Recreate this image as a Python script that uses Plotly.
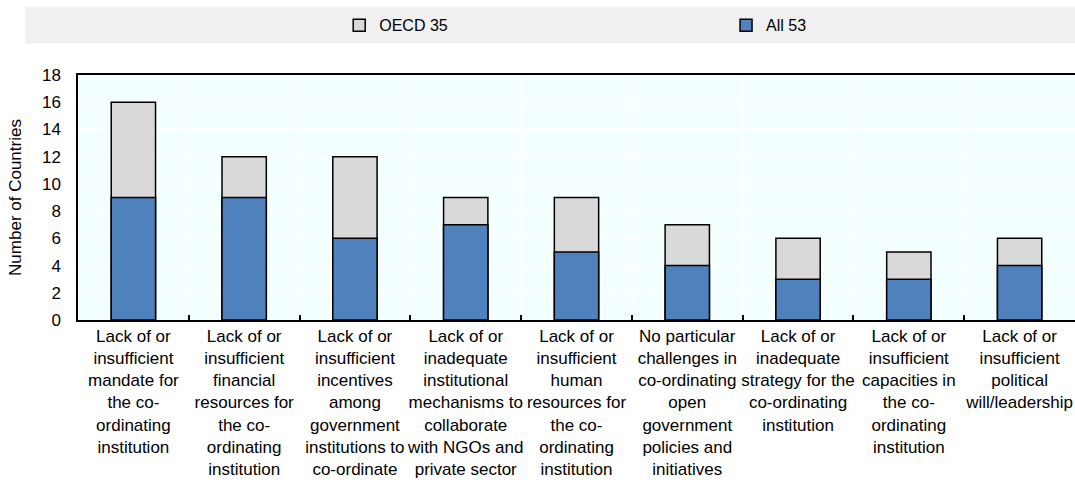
import plotly.graph_objects as go

# Challenges in co-ordinating open government policies
categories = [
    "Lack of or<br>insufficient<br>mandate for<br>the co-<br>ordinating<br>institution",
    "Lack of or<br>insufficient<br>financial<br>resources for<br>the co-<br>ordinating<br>institution",
    "Lack of or<br>insufficient<br>incentives<br>among<br>government<br>institutions to<br>co-ordinate",
    "Lack of or<br>inadequate<br>institutional<br>mechanisms to<br>collaborate<br>with NGOs and<br>private sector",
    "Lack of or<br>insufficient<br>human<br>resources for<br>the co-<br>ordinating<br>institution",
    "No particular<br>challenges in<br>co-ordinating<br>open<br>government<br>policies and<br>initiatives",
    "Lack of or<br>inadequate<br>strategy for the<br>co-ordinating<br>institution",
    "Lack of or<br>insufficient<br>capacities in<br>the co-<br>ordinating<br>institution",
    "Lack of or<br>insufficient<br>political<br>will/leadership",
]
oecd_35 = [16, 12, 12, 9, 9, 7, 6, 5, 6]
all_53 = [9, 9, 6, 7, 5, 4, 3, 3, 4]
y_ticks = [0, 2, 4, 6, 8, 10, 12, 14, 16, 18]

FONT = "Liberation Sans Narrow, Arial Narrow, Liberation Sans, Arial, sans-serif"

fig = go.Figure()
fig.add_trace(go.Bar(
    x=categories, y=oecd_35, name="OECD 35", width=0.4, legend="legend",
    marker=dict(color="#D9D9D9", line=dict(color="#000000", width=1.5)),
))
fig.add_trace(go.Bar(
    x=categories, y=all_53, name="All 53", width=0.4, legend="legend2",
    marker=dict(color="#4F81BD", line=dict(color="#000000", width=1.5)),
))

# grey band behind the legend
fig.add_shape(type="rect", xref="paper", yref="paper",
              x0=-0.053, x1=1.0, y0=1.129, y1=1.28,
              fillcolor="#F0F0F0", line=dict(width=0), layer="below")

legend_common = dict(
    orientation="h", y=1.203, yanchor="middle", xanchor="left",
    bgcolor="rgba(0,0,0,0)", font=dict(size=16),
    itemwidth=30,
)

fig.update_layout(
    width=1075, height=485,
    margin=dict(l=78, r=0, t=75, b=165, autoexpand=False),
    barmode="overlay",
    bargap=0.6,
    paper_bgcolor="#FFFFFF",
    plot_bgcolor="#F4FFFF",
    font=dict(family=FONT, size=17, color="#000000"),
    showlegend=True,
    legend=dict(x=0.262, **legend_common),
    legend2=dict(x=0.650, **legend_common),
    xaxis=dict(
        type="category", tickson="boundaries",
        showgrid=True, gridcolor="#FFFFFF", gridwidth=1.5,
        showline=True, linecolor="#000000", linewidth=1.5, mirror=True,
        ticks="inside", ticklen=5, tickwidth=1.5, tickcolor="#000000",
        tickfont=dict(size=17), tickangle=0,
    ),
    yaxis=dict(
        range=[0, 18], tickvals=y_ticks,
        showgrid=True, gridcolor="#FFFFFF", gridwidth=1.5,
        showline=True, linecolor="#000000", linewidth=1.5,
        ticks="", zeroline=False,
        ticklabelstandoff=12,
        title=dict(text="Number of Countries", font=dict(size=17), standoff=16),
    ),
)

fig.write_html("out.html")
